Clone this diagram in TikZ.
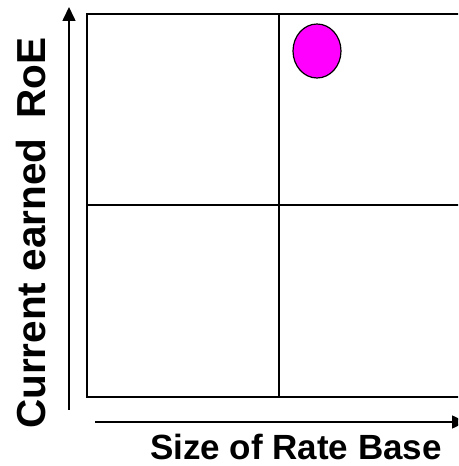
\documentclass[tikz,border=0pt]{standalone}
\usepackage{fontspec}
\setmainfont{Liberation Sans}
\usetikzlibrary{arrows.meta, shapes.geometric}
\definecolor{dotpink}{RGB}{255,0,255}

\begin{document}
\begin{tikzpicture}[x=1pt, y=1pt,
    grid/.style={line width=1.6pt},
    axis/.style={line width=1.6pt, -{Triangle[length=14pt, width=13pt]}},
    dot/.style={ellipse, draw, line width=1.2pt, fill=dotpink, minimum width=48pt, minimum height=54pt, inner sep=0pt}]
\useasboundingbox (0,0) rectangle (458,466);
\clip (0,0) rectangle (458,466);
% quadrant box
\draw[grid] (87,69) rectangle (475,452);
\draw[grid] (279,69) -- (279,452);
\draw[grid] (87,261) -- (475,261);
% axes
\coordinate (y0) at (69,56);
\coordinate (y1) at (69,459);
\coordinate (x0) at (95,44);
\coordinate (x1) at (466,44);
\draw[axis] (y0) -- (y1);
\draw[axis] (x0) -- (x1);
% labels
\node at(31,233)(ylab)[rotate=90, inner sep=0pt, font=\bfseries\fontsize{40.5}{44}\selectfont]{Current earned\hspace{0.5em}RoE};
\node at(296,19)(xlab)[inner sep=0pt, font=\bfseries\fontsize{35}{38}\selectfont]{Size of Rate Base};
% marker
\node at(317,415)(firm)[dot]{};
\end{tikzpicture}
\end{document}
